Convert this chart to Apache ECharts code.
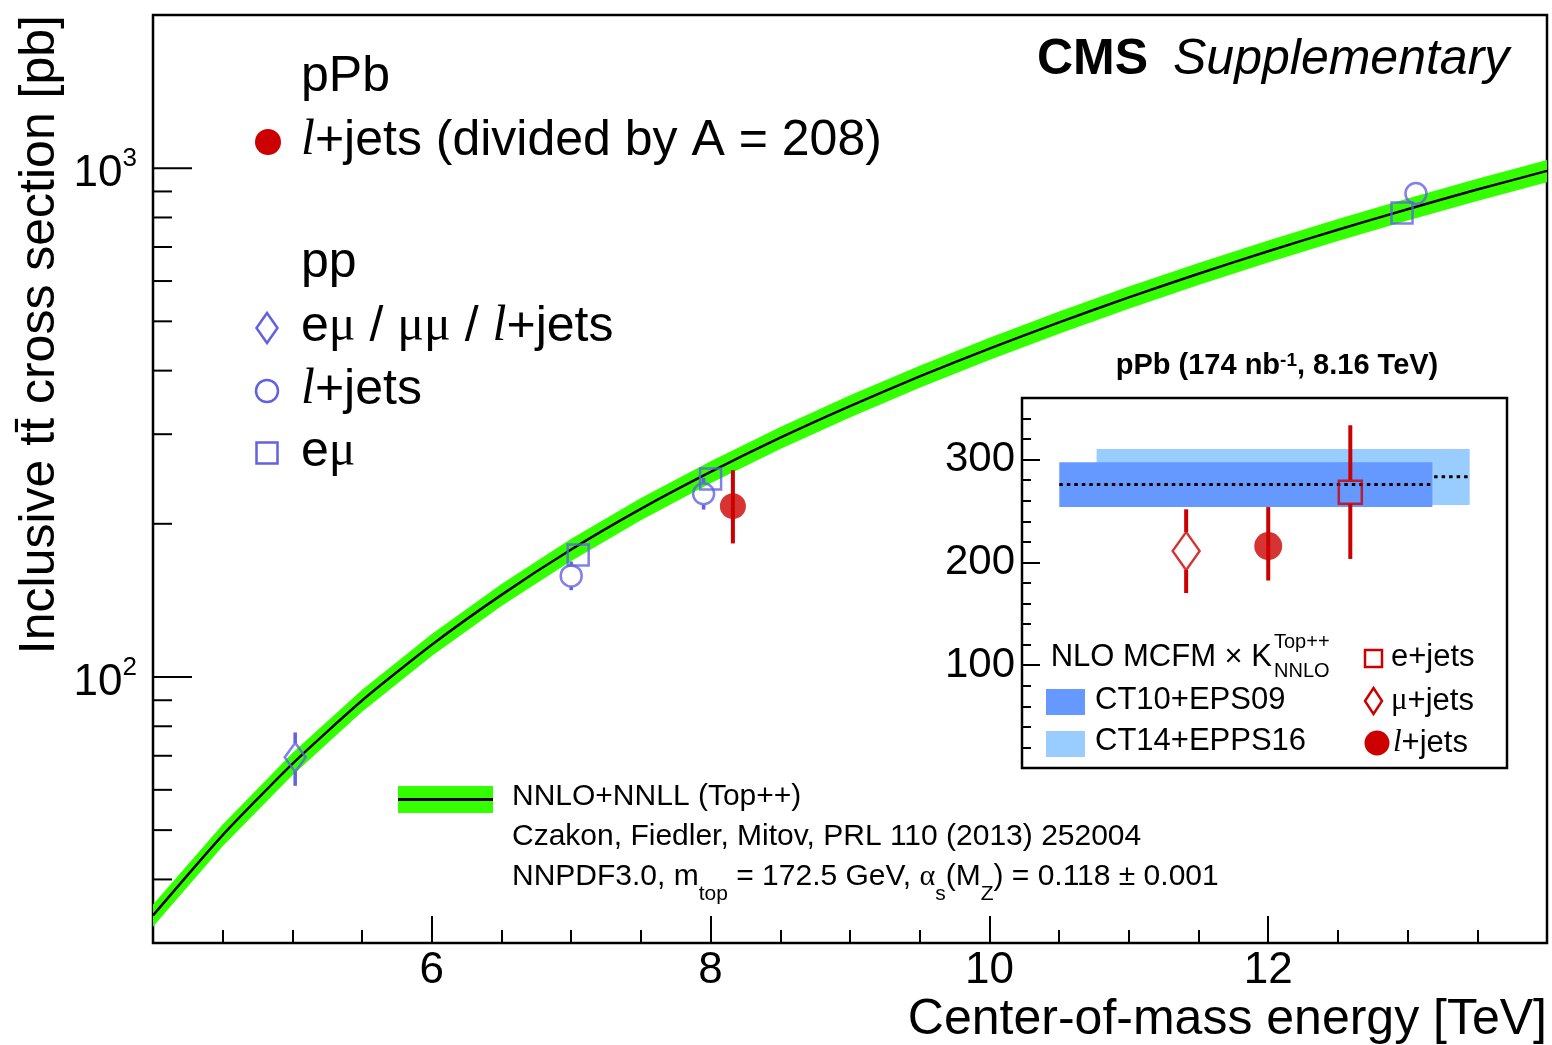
<!DOCTYPE html>
<html>
<head>
<meta charset="utf-8">
<title>Inclusive ttbar cross section</title>
<script src="https://cdn.jsdelivr.net/npm/echarts@6/dist/echarts.min.js"></script>
<style>
  html, body { margin: 0; padding: 0; background: #fff; }
  #chart { width: 1552px; height: 1045px; }
</style>
</head>
<body>
<div id="chart"></div>
<script>
// theory curve NNLO+NNLL (Top++), read along the band
const theoryE = [4, 4.5, 5, 5.5, 6, 6.5, 7, 7.5, 8, 8.5, 9, 9.5, 10, 10.5, 11, 11.5, 12, 12.5, 13, 13.5, 14]
const theoryXsec = [34, 48.9, 67.5, 89.9, 115.7, 145.0, 178.0, 214.0, 252.9, 295.3, 340.7, 389.6, 441.9, 497.7, 557.2, 620.2, 686.7, 756.8, 830.6, 907.7, 987.9]
const theoryLow = [32.3, 46.5, 64.1, 85.4, 109.9, 137.8, 169.1, 203.3, 240.3, 280.5, 323.7, 370.1, 419.8, 472.8, 529.3, 589.2, 652.4, 719.0, 789.1, 862.3, 938.5]
const theoryHigh = [35.7, 51.3, 70.9, 94.4, 121.5, 152.3, 186.9, 224.7, 265.5, 310.1, 357.7, 409.1, 464.0, 522.6, 585.1, 651.2, 721.0, 794.6, 872.1, 953.1, 1037.3]

// pp measurements
const ppDilepE = [5.02]
const ppDilepXsec = [69.5]
const ppDilepLo = [61.1]
const ppDilepHi = [77.8]

const ppLjetsE = [7.0, 7.95, 13.06]
const ppLjetsXsec = [158.0, 229.1, 891.7]
const ppLjetsLo = [148.1, 213.3, 866]
const ppLjetsHi = [168.6, 246.0, 918]

const ppEmuE = [7.05, 8.0, 12.96]
const ppEmuXsec = [173.6, 244.9, 816.6]
const ppEmuLo = [167, 236, 785]
const ppEmuHi = [180, 254, 848]

// pPb l+jets, divided by A = 208
const pPbE = [8.16]
const pPbXsec = [216.6]
const pPbLo = [183]
const pPbHi = [255]

// main y axis ticks
const yMajorTicks = [100, 1000]
const yMinorTicks = [40, 50, 60, 70, 80, 90, 200, 300, 400, 500, 600, 700, 800, 900]

// inset: pPb channels
const insetChannels = ['μ+jets', 'l+jets', 'e+jets']
const insetPos = [4.4, 6.6, 8.8]
const insetXsec = [211.1, 215.9, 268.4]
const insetLo = [170.2, 182.4, 203.4]
const insetHi = [251.7, 253.9, 333.5]

// inset predictions (light drawn first, dark on top)
const predNames = ['CT14+EPPS16', 'CT10+EPS09']
const predFrom = [2, 1]
const predTo = [12, 11]
const predLo = [255.8, 253.9]
const predHi = [310.3, 297.4]
const predMid = [283.3, 275.8]

const SANS = '"Liberation Sans", Arial, Helvetica, sans-serif'
const SERIF = '"Liberation Serif", "Times New Roman", serif'
const BLUE = '#6161e3'
const RED = '#cc0000'
const GREEN = '#33ff00'
const PRED_COLORS = ['#99ccff', '#6699ff']

const zip = (...cols) => cols[0].map((_, i) => cols.map(c => c[i]))

// vertical error bar, with a gap where the marker sits
function errorBar (color, width, gap) {
  return function (params, api) {
    const x = api.value(0)
    const c = api.coord([x, api.value(1)])
    const lo = api.coord([x, api.value(2)])
    const hi = api.coord([x, api.value(3)])
    const children = []
    if (hi[1] < c[1] - gap) {
      children.push({ type: 'line', shape: { x1: c[0], y1: hi[1], x2: c[0], y2: c[1] - gap }, style: { stroke: color, lineWidth: width } })
    }
    if (lo[1] > c[1] + gap) {
      children.push({ type: 'line', shape: { x1: c[0], y1: c[1] + gap, x2: c[0], y2: lo[1] }, style: { stroke: color, lineWidth: width } })
    }
    return { type: 'group', children: children }
  }
}

const hollow = color => ({ color: 'rgba(0,0,0,0)', borderColor: color, borderWidth: 2.5 })

// italic "l" and greek mu, as in ROOT's Times symbols
const lRich = fs => ({ fontSize: fs, fontFamily: SERIF, fontStyle: 'italic' })
const muRich = fs => ({ fontSize: fs, fontFamily: SERIF })

const label = (x, y, text, fs, extra) => ({
  type: 'text', x: x, y: y,
  style: Object.assign({
    text: text, fontSize: fs, fontFamily: SANS, fill: '#000',
    verticalAlign: 'middle', textVerticalAlign: 'middle'
  }, extra || {})
})

const chart = echarts.init(document.getElementById('chart'))

const option = {
  animation: false,
  backgroundColor: '#fff',
  textStyle: { fontFamily: SANS, color: '#000' },
  grid: [
    { left: 153, right: 5, top: 15, bottom: 102, show: true, borderColor: '#000', borderWidth: 2.5 },
    { left: 1022, top: 398, width: 485, height: 370, show: true, borderColor: '#000', borderWidth: 2.5, backgroundColor: '#fff' }
  ],
  xAxis: [
    {
      type: 'value', gridIndex: 0, min: 4, max: 14, interval: 2,
      axisLine: { show: false },
      axisTick: { inside: true, length: 27, lineStyle: { color: '#000', width: 2 } },
      minorTick: { show: true, splitNumber: 4, length: 13, lineStyle: { color: '#000', width: 2 } },
      splitLine: { show: false },
      axisLabel: {
        fontSize: 44, color: '#000', margin: 6,
        formatter: v => (v === 4 || v === 14) ? '' : String(v)
      }
    },
    { type: 'value', gridIndex: 1, min: 0, max: 13, show: false }
  ],
  yAxis: [
    {
      type: 'log', logBase: 10, gridIndex: 0, min: 30, max: 2000,
      axisLine: { show: false },
      axisTick: { show: false },
      splitLine: { show: false },
      axisLabel: {
        margin: 16, color: '#000',
        formatter: v => {
          const e = Math.round(Math.log10(v))
          if (Math.abs(Math.log10(v) - e) > 1e-6 || e < 2 || e > 3) return ''
          return '{b|10}{s|' + e + '}'
        },
        rich: {
          b: { fontSize: 44, lineHeight: 44, padding: [12, 0, 0, 0], fontFamily: SANS },
          s: { fontSize: 26, lineHeight: 38, verticalAlign: 'top', fontFamily: SANS }
        }
      }
    },
    {
      type: 'value', gridIndex: 1, min: 0, max: 360, interval: 100, position: 'left',
      axisLine: { show: false },
      axisTick: { inside: true, length: 18, lineStyle: { color: '#000', width: 2 } },
      splitLine: { show: false },
      axisLabel: {
        fontSize: 42, color: '#000', margin: 7,
        formatter: v => (v === 0 || v === 360) ? '' : String(v)
      }
    },
    {
      type: 'value', gridIndex: 1, min: 0, max: 360, interval: 20, position: 'left', offset: 0,
      axisLine: { show: false },
      axisTick: { inside: true, length: 9, lineStyle: { color: '#000', width: 2 } },
      splitLine: { show: false },
      axisLabel: { show: false }
    }
  ],
  series: [
    {
      // theory uncertainty band
      type: 'custom', xAxisIndex: 0, yAxisIndex: 0, clip: true, silent: true,
      data: zip(theoryE, theoryXsec),
      renderItem: (params, api) => {
        if (params.dataIndex !== 0) return null
        const pts = []
        theoryE.forEach((e, i) => pts.push(api.coord([e, theoryHigh[i]])))
        for (let i = theoryE.length - 1; i >= 0; i--) pts.push(api.coord([theoryE[i], theoryLow[i]]))
        return { type: 'polygon', shape: { points: pts }, style: { fill: GREEN } }
      },
      z: 1
    },
    {
      type: 'line', xAxisIndex: 0, yAxisIndex: 0, data: zip(theoryE, theoryXsec),
      smooth: 0.2, symbol: 'none', silent: true,
      lineStyle: { color: '#000', width: 2.5 }, z: 2
    },
    {
      // log-axis tick marks (ROOT style, inside)
      type: 'custom', xAxisIndex: 0, yAxisIndex: 0, silent: true,
      data: yMajorTicks.map(v => [4, v, 1]).concat(yMinorTicks.map(v => [4, v, 0])),
      renderItem: (params, api) => {
        const c = api.coord([api.value(0), api.value(1)])
        const len = api.value(2) ? 39 : 19
        return { type: 'line', shape: { x1: c[0], y1: c[1], x2: c[0] + len, y2: c[1] }, style: { stroke: '#000', lineWidth: 2 } }
      },
      z: 3
    },
    {
      type: 'custom', xAxisIndex: 0, yAxisIndex: 0, silent: true,
      data: zip(ppDilepE, ppDilepXsec, ppDilepLo, ppDilepHi),
      renderItem: errorBar(BLUE, 3.5, 14), z: 4
    },
    {
      type: 'custom', xAxisIndex: 0, yAxisIndex: 0, silent: true,
      data: zip(ppLjetsE, ppLjetsXsec, ppLjetsLo, ppLjetsHi),
      renderItem: errorBar(BLUE, 3.5, 11), z: 4
    },
    {
      type: 'custom', xAxisIndex: 0, yAxisIndex: 0, silent: true,
      data: zip(ppEmuE, ppEmuXsec, ppEmuLo, ppEmuHi),
      renderItem: errorBar(BLUE, 3.5, 11), z: 4
    },
    {
      type: 'custom', xAxisIndex: 0, yAxisIndex: 0, silent: true,
      data: zip(pPbE, pPbXsec, pPbLo, pPbHi),
      renderItem: errorBar(RED, 4, 0), z: 4
    },
    {
      type: 'scatter', xAxisIndex: 0, yAxisIndex: 0, data: zip(ppDilepE, ppDilepXsec),
      symbol: 'diamond', symbolSize: [21, 29], itemStyle: hollow(BLUE), z: 5
    },
    {
      type: 'scatter', xAxisIndex: 0, yAxisIndex: 0, data: zip(ppLjetsE, ppLjetsXsec),
      symbol: 'circle', symbolSize: 21, itemStyle: hollow(BLUE), z: 5
    },
    {
      type: 'scatter', xAxisIndex: 0, yAxisIndex: 0, data: zip(ppEmuE, ppEmuXsec),
      symbol: 'rect', symbolSize: 21, itemStyle: hollow(BLUE), z: 5
    },
    {
      type: 'scatter', xAxisIndex: 0, yAxisIndex: 0, data: zip(pPbE, pPbXsec),
      symbol: 'circle', symbolSize: 26, itemStyle: { color: RED }, z: 5
    },
    {
      // inset prediction bands with dotted central values
      type: 'custom', xAxisIndex: 1, yAxisIndex: 1, silent: true,
      data: predFrom.map((f, i) => [f, predTo[i], predLo[i], predHi[i], predMid[i], i]),
      renderItem: (params, api) => {
        const a = api.coord([api.value(0), api.value(3)])
        const b = api.coord([api.value(1), api.value(2)])
        const m = api.coord([api.value(0), api.value(4)])
        return {
          type: 'group',
          children: [
            { type: 'rect', shape: { x: a[0], y: a[1], width: b[0] - a[0], height: b[1] - a[1] }, style: { fill: PRED_COLORS[api.value(5)] } },
            { type: 'line', shape: { x1: m[0], y1: m[1], x2: b[0], y2: m[1] }, style: { stroke: '#000', lineWidth: 3, lineDash: [3.5, 4] } }
          ]
        }
      },
      z: 3
    },
    {
      type: 'custom', xAxisIndex: 1, yAxisIndex: 1, silent: true,
      data: zip(insetPos, insetXsec, insetLo, insetHi),
      renderItem: (params, api) => {
        const gaps = [19, 0, 12]
        return errorBar(RED, 4, gaps[params.dataIndex])(params, api)
      },
      z: 4
    },
    {
      type: 'scatter', xAxisIndex: 1, yAxisIndex: 1, name: insetChannels[0],
      data: [[insetPos[0], insetXsec[0]]],
      symbol: 'diamond', symbolSize: [27, 38], itemStyle: hollow(RED), z: 5
    },
    {
      type: 'scatter', xAxisIndex: 1, yAxisIndex: 1, name: insetChannels[1],
      data: [[insetPos[1], insetXsec[1]]],
      symbol: 'circle', symbolSize: 28, itemStyle: { color: RED }, z: 5
    },
    {
      type: 'scatter', xAxisIndex: 1, yAxisIndex: 1, name: insetChannels[2],
      data: [[insetPos[2], insetXsec[2]]],
      symbol: 'rect', symbolSize: 23, itemStyle: hollow(RED), z: 5
    }
  ],
  graphic: [
    // axis titles
    Object.assign(label(40, 15, 'Inclusive tt\u0304 cross section [pb]', 50, { align: 'right', textAlign: 'right' }), { rotation: Math.PI / 2 }),
    label(1547, 1020, 'Center-of-mass energy [TeV]', 50, { align: 'right', textAlign: 'right' }),
    // CMS label
    label(1037, 60, 'CMS', 50, { fontWeight: 'bold' }),
    label(1173, 60, 'Supplementary', 50, { fontStyle: 'italic' }),
    // main legend
    label(301, 77, 'pPb', 50),
    { type: 'circle', shape: { cx: 268, cy: 142, r: 13 }, style: { fill: RED } },
    label(301, 141, '{l|l}+jets (divided by A = 208)', 50, { rich: { l: lRich(50) } }),
    label(301, 263, 'pp', 50),
    { type: 'polygon', shape: { points: [[267, 313], [277.5, 328], [267, 343], [256.5, 328]] }, style: { fill: 'none', stroke: BLUE, lineWidth: 2.5 } },
    label(301, 327, 'e{mu|μ} / {mu|μμ} / {l|l}+jets', 50, { rich: { l: lRich(50), mu: muRich(50) } }),
    { type: 'circle', shape: { cx: 267, cy: 391, r: 11 }, style: { fill: 'none', stroke: BLUE, lineWidth: 2.5 } },
    label(301, 390, '{l|l}+jets', 50, { rich: { l: lRich(50) } }),
    { type: 'rect', shape: { x: 256.5, y: 442.5, width: 21, height: 21 }, style: { fill: 'none', stroke: BLUE, lineWidth: 2.5 } },
    label(301, 452, 'e{mu|μ}', 50, { rich: { mu: muRich(50) } }),
    // theory legend
    { type: 'rect', shape: { x: 398, y: 786, width: 95, height: 27 }, style: { fill: GREEN } },
    { type: 'line', shape: { x1: 398, y1: 799.5, x2: 493, y2: 799.5 }, style: { stroke: '#000', lineWidth: 3 } },
    label(512, 797, 'NNLO+NNLL (Top++)', 30),
    label(512, 837, 'Czakon, Fiedler, Mitov, PRL 110 (2013) 252004', 30),
    label(512, 862, '{n|NNPDF3.0, m}{sub|top}{n| = 172.5 GeV, }{g|α}{sub|s}{n|(M}{sub|Z}{n|) = 0.118 ± 0.001}', 30, {
      verticalAlign: 'top', textVerticalAlign: 'top',
      rich: {
        n: { fontSize: 30, lineHeight: 30, verticalAlign: 'top', fontFamily: SANS },
        g: { fontSize: 30, lineHeight: 30, verticalAlign: 'top', fontFamily: SERIF },
        sub: { fontSize: 21, lineHeight: 21, verticalAlign: 'top', padding: [22, 0, 0, 0], fontFamily: SANS }
      }
    }),
    // inset title
    label(1277, 366, '{n|pPb (174 nb}{s|-1}{n|, 8.16 TeV)}', 29, {
      fontWeight: 'bold', align: 'center', textAlign: 'center',
      rich: {
        n: { fontSize: 29, fontWeight: 'bold', lineHeight: 29, fontFamily: SANS },
        s: { fontSize: 19, fontWeight: 'bold', lineHeight: 12, verticalAlign: 'top', fontFamily: SANS }
      }
    }),
    // inset legend
    label(1272, 657, 'NLO MCFM × K', 31, { align: 'right', textAlign: 'right' }),
    label(1274, 642, 'Top++', 20),
    label(1274, 671, 'NNLO', 20),
    { type: 'rect', shape: { x: 1046, y: 689, width: 39, height: 26 }, style: { fill: PRED_COLORS[1] } },
    { type: 'rect', shape: { x: 1046, y: 731, width: 39, height: 26 }, style: { fill: PRED_COLORS[0] } },
    label(1095, 700, predNames[1], 31),
    label(1095, 741, predNames[0], 31),
    { type: 'rect', shape: { x: 1365, y: 650, width: 17, height: 17 }, style: { fill: 'none', stroke: RED, lineWidth: 2.5 } },
    label(1391, 657, insetChannels[2], 31),
    { type: 'polygon', shape: { points: [[1373.5, 688], [1382, 701], [1373.5, 714], [1365, 701]] }, style: { fill: 'none', stroke: RED, lineWidth: 2.5 } },
    label(1391, 701, '{mu|μ}+jets', 31, { rich: { mu: muRich(31) } }),
    { type: 'circle', shape: { cx: 1377, cy: 743, r: 12.5 }, style: { fill: RED } },
    label(1393, 743, '{l|l}+jets', 31, { rich: { l: lRich(31) } })
  ]
}

chart.setOption(option)

window.addEventListener('resize', () => chart.resize())
</script>
</body>
</html>
